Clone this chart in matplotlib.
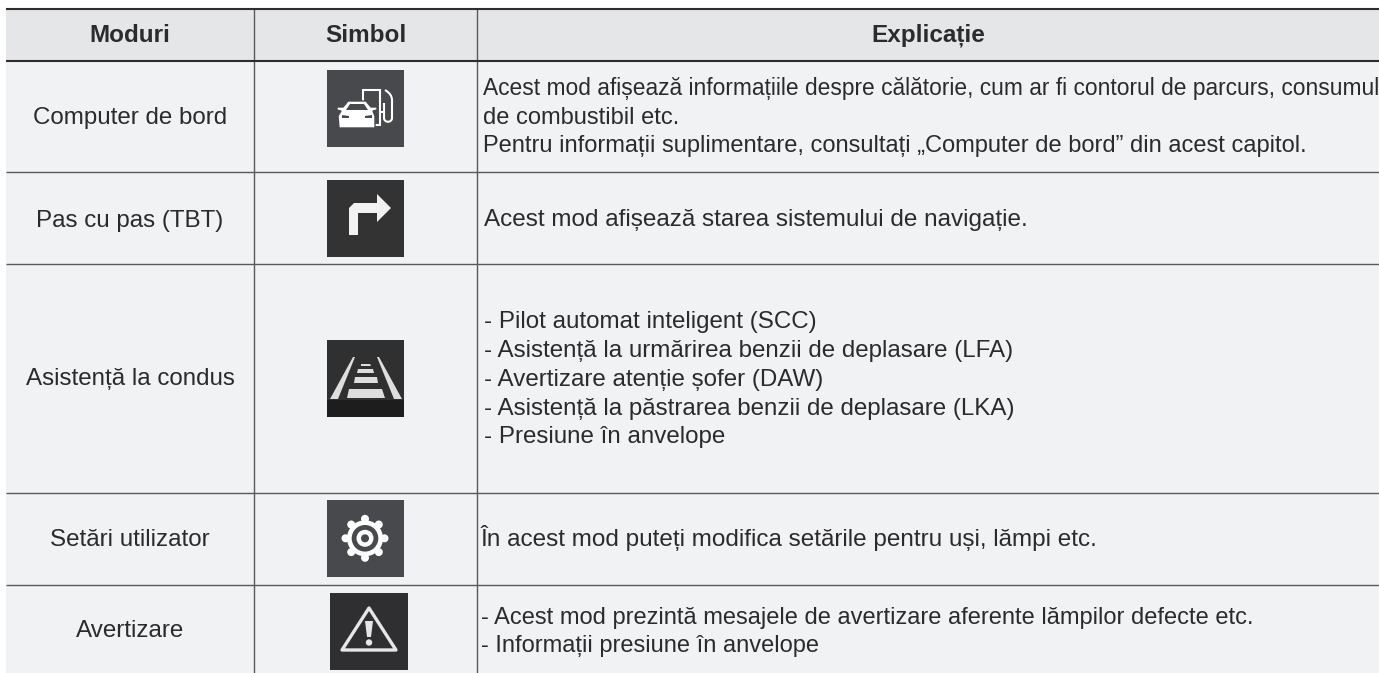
import matplotlib
matplotlib.use('Agg')
import matplotlib.pyplot as plt
from matplotlib.patches import Rectangle, Polygon, Circle, PathPatch
from matplotlib.path import Path
import numpy as np

plt.rcParams['font.family'] = ['Liberation Sans', 'DejaVu Sans']

headers = ['Moduri', 'Simbol', 'Explicație']
modes = ['Computer de bord', 'Pas cu pas (TBT)', 'Asistență la condus',
         'Setări utilizator', 'Avertizare']
explanations = [
    ['Acest mod afișează informațiile despre călătorie, cum ar fi contorul de parcurs, consumul',
     'de combustibil etc.',
     'Pentru informații suplimentare, consultați „Computer de bord” din acest capitol.'],
    ['Acest mod afișează starea sistemului de navigație.'],
    ['- Pilot automat inteligent (SCC)',
     '- Asistență la urmărirea benzii de deplasare (LFA)',
     '- Avertizare atenție șofer (DAW)',
     '- Asistență la păstrarea benzii de deplasare (LKA)',
     '- Presiune în anvelope'],
    ['În acest mod puteți modifica setările pentru uși, lămpi etc.'],
    ['- Acest mod prezintă mesajele de avertizare aferente lămpilor defecte etc.',
     '- Informații presiune în anvelope'],
]

# table layout in image pixels
row_edges = [61, 172, 264, 493, 585, 673]
col_edges = [6, 254, 477, 1379]
mode_base = [124, 227, 385, 546, 637]
expl_base = [[95, 123.5, 152], [226], [328, 357, 386, 415, 443], [546], [624, 652]]
expl_size = [[16.35, 17.0, 17.0], [17.45], [17.4] * 5, [17.5], [17.05, 17.0]]
text_x = [483, 484, 484, 481, 481]
icon_xy = [(327, 70), (327, 180), (327, 340), (327, 500), (330, 593)]
ICON = 77

INK = '#2b2a2c'
fig = plt.figure(figsize=(13.79, 6.73), dpi=100)
ax = fig.add_axes([0, 0, 1, 1])
ax.set_xlim(0, 1379)
ax.set_ylim(673, 0)
ax.axis('off')

ax.add_patch(Rectangle((6, 8), 1373, 53, fc='#e5e6e8', ec='none'))
ax.add_patch(Rectangle((6, 61), 1373, 612, fc='#f1f2f4', ec='none'))

# rules
for y in row_edges[1:-1]:
    ax.plot([6, 1379], [y, y], color='#59585b', lw=1.0, solid_capstyle='butt')
for x in col_edges[1:-1]:
    ax.plot([x, x], [8, 673], color='#59585b', lw=1.0, solid_capstyle='butt')
ax.plot([6, 1379], [8.5, 8.5], color='#2e2c2d', lw=1.5, solid_capstyle='butt')
ax.plot([6, 1379], [61, 61], color='#2e2c2d', lw=1.5, solid_capstyle='butt')

for i, h in enumerate(headers):
    ax.text((col_edges[i] + col_edges[i + 1]) / 2, 41.5, h, ha='center', va='baseline',
            fontsize=17.5, fontweight='bold', color=INK)
for m, y in zip(modes, mode_base):
    ax.text(130, y, m, ha='center', va='baseline', fontsize=17.4, color=INK)
for lines, ys, sizes, x in zip(explanations, expl_base, expl_size, text_x):
    for line, y, fs in zip(lines, ys, sizes):
        ax.text(x, y, line, ha='left', va='baseline', fontsize=fs, color=INK)


def tile(x, y, color, w=ICON):
    ax.add_patch(Rectangle((x, y), w, ICON, fc=color, ec='none'))


def shape(x, y, pts, **kw):
    ax.add_patch(Polygon([(x + a, y + b) for a, b in pts], **kw))


def fuel_icon(x, y):
    bg = '#48494c'
    tile(x, y, bg)
    # pump body and hose
    ax.add_patch(Rectangle((x + 36, y + 20), 17, 35, fc='none', ec='white', lw=1.5))
    hose = Path([(x + 58, y + 20), (x + 65, y + 24), (x + 65, y + 30), (x + 65, y + 48),
                 (x + 65, y + 53), (x + 57, y + 53), (x + 57, y + 48), (x + 57, y + 33)],
                [Path.MOVETO, Path.CURVE3, Path.CURVE3, Path.LINETO,
                 Path.CURVE4, Path.CURVE4, Path.CURVE4, Path.LINETO])
    ax.add_patch(PathPatch(hose, fc='none', ec='white', lw=1.5))
    ax.plot([x + 53, x + 57], [y + 42, y + 42], color='white', lw=1.5)
    # car in front of the pump
    shape(x, y, [(12, 58), (11, 46), (14, 41), (10, 40), (10, 37), (16, 37), (21, 31), (39, 31),
                 (44, 37), (50, 37), (50, 40), (46, 41), (48, 46), (48, 58)],
          fc='white', ec=bg, lw=1.0)
    shape(x, y, [(19, 40), (23, 34), (37, 34), (41, 40)], fc=bg, ec='none')
    shape(x, y, [(15, 45), (22, 46), (22, 48), (15, 48)], fc=bg, ec='none')
    shape(x, y, [(38, 46), (45, 45), (45, 48), (38, 48)], fc=bg, ec='none')


def arrow_icon(x, y):
    tile(x, y, '#333334')
    shape(x, y, [(22, 55), (22, 28), (27, 23), (50, 23), (50, 14), (64, 28), (50, 42), (50, 33),
                 (31, 33), (31, 55)], fc='#f2f2f2', ec='none')


def road_icon(x, y):
    tile(x, y, '#303031')
    ax.add_patch(Rectangle((x, y + 60), ICON, 17, fc='#1d1d1e', ec='none'))
    c = '#dedede'
    shape(x, y, [(26, 17), (28, 17), (11, 59), (3, 59)], fc=c, ec='none')
    shape(x, y, [(50, 17), (52, 17), (75, 59), (67, 59)], fc=c, ec='none')
    for top, bot, l_top, r_top, l_bot, r_bot in [(49, 58, 22, 55, 20, 58), (37, 43, 28, 50, 27, 51),
                                                 (29, 33, 31, 46, 30, 47), (24, 26, 34, 43, 34, 44)]:
        shape(x, y, [(l_top, top), (r_top, top), (r_bot, bot), (l_bot, bot)], fc=c, ec='none')


def gear_icon(x, y):
    bg = '#48494c'
    tile(x, y, bg)
    cx, cy = x + 38, y + 38.3
    ax.add_patch(Circle((cx, cy), 18, fc='white', ec='none'))
    for a in np.arange(8) * np.pi / 4:
        ax.add_patch(Circle((cx + 19.5 * np.cos(a), cy + 19.5 * np.sin(a)), 4, fc='white', ec='none'))
    ax.add_patch(Circle((cx, cy), 13.3, fc=bg, ec='none'))
    ax.add_patch(Circle((cx, cy), 8.5, fc='white', ec='none'))
    ax.add_patch(Circle((cx, cy), 4, fc=bg, ec='none'))


def warn_icon(x, y):
    tile(x, y, '#2f2f31', w=78)
    c = '#e6e6e6'
    shape(x, y, [(39, 15), (66, 57), (12, 57)], fc='none', ec=c, lw=2.4, joinstyle='round')
    shape(x, y, [(35, 28), (43, 28), (41, 44), (37, 44)], fc=c, ec='none')
    ax.add_patch(Circle((x + 39, y + 49.5), 3.2, fc=c, ec='none'))


for draw, (ix, iy) in zip([fuel_icon, arrow_icon, road_icon, gear_icon, warn_icon], icon_xy):
    draw(ix, iy)

fig.savefig('out.png', dpi=100)
